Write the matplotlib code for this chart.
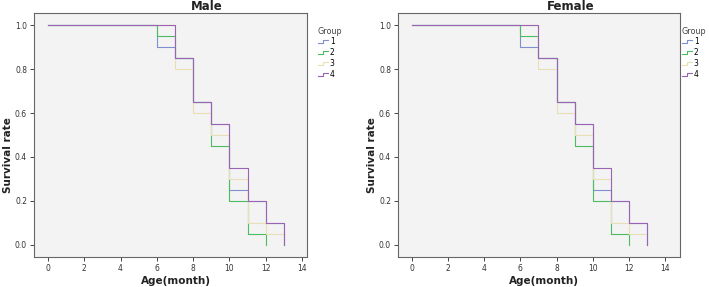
import matplotlib.pyplot as plt
from matplotlib.lines import Line2D
from matplotlib.legend_handler import HandlerLine2D

## survival curves (both panels look identical)
months = [0, 6, 7, 8, 9, 10, 11, 12, 13]
group1 = [1.0, 0.90, 0.85, 0.65, 0.55, 0.25, 0.20, 0.10, 0.0]
group2 = [1.0, 0.95, 0.85, 0.65, 0.45, 0.20, 0.05, 0.0]
group3 = [1.0, 1.0, 0.80, 0.60, 0.50, 0.30, 0.10, 0.05, 0.0]
group4 = [1.0, 1.0, 0.85, 0.65, 0.55, 0.35, 0.20, 0.10, 0.0]

group_names = ['1', '2', '3', '4']
group_colors = ['#7f8fd0', '#4dbb5f', '#e8e0b4', '#9a63b3']
panel_titles = ['Male', 'Female']

x_ticks = [0, 2, 4, 6, 8, 10, 12, 14]
y_ticks = [0.0, 0.2, 0.4, 0.6, 0.8, 1.0]


# little step shaped legend glyph like SPSS draws
class StepHandler(HandlerLine2D):
    def create_artists(self, legend, orig_handle, xdescent, ydescent, width, height, fontsize, trans):
        x0 = -xdescent
        ym = height / 2 - ydescent
        xs = [x0, x0 + width * 0.55, x0 + width * 0.55, x0 + width]
        ys = [ym - height * 0.25, ym - height * 0.25, ym + height * 0.25, ym + height * 0.25]
        ln = Line2D(xs, ys, color=orig_handle.get_color(), lw=orig_handle.get_linewidth())
        ln.set_transform(trans)
        return [ln]


fig = plt.figure(figsize=(7.09, 2.87), dpi=100)
W, H = 709, 287

# axes boxes in pixels: left, right, top, bottom
boxes = [(34, 307, 13, 257), (398, 680, 13, 257)]
xlims = [(-0.77, 14.28), (-0.77, 14.83)]
title_x = [207, 571]
legend_x = [316, 680]

all_groups = [group1, group2, group3, group4]

for i in range(2):
    l, r, t, b = boxes[i]
    ax = fig.add_axes([l / W, 1 - b / H, (r - l) / W, (b - t) / H])
    ax.set_facecolor('#f3f3f3')

    handles = []
    for g in range(4):
        vals = all_groups[g]
        h, = ax.step(months[:len(vals)], vals, where='post',
                     color=group_colors[g], lw=0.8, label=group_names[g])
        handles.append(h)

    ax.set_xlim(*xlims[i])
    ax.set_ylim(-0.055, 1.055)
    ax.set_xticks(x_ticks)
    ax.set_yticks(y_ticks)
    ax.set_yticklabels(['%.1f' % v for v in y_ticks])
    ax.tick_params(direction='out', length=3, width=0.7, color='#444444',
                   labelsize=5.5, labelcolor='#333333', pad=2)
    for sp in ax.spines.values():
        sp.set_color('#666666')
        sp.set_linewidth(0.8)

    fig.text(title_x[i] / W, 1 - 7 / H, panel_titles[i], ha='center', va='center',
             fontsize=8.5, fontweight='bold', color='#222222')
    fig.text((l + r) / 2 / W + 5 / W, 1 - 281 / H, 'Age(month)', ha='center', va='center',
             fontsize=7.5, fontweight='bold', color='#222222')
    fig.text((l - 26) / W, 1 - 155 / H, 'Survival rate', ha='center', va='center',
             rotation=90, fontsize=7.5, fontweight='bold', color='#222222')

    leg = ax.legend(handles=handles, title='Group', loc='upper left',
                    bbox_to_anchor=((legend_x[i] - l) / (r - l), 1 - 12 / (b - t)),
                    frameon=False, fontsize=5.5, title_fontsize=5.8,
                    handlelength=1.4, handletextpad=0.2, labelspacing=0.25,
                    borderaxespad=0, borderpad=0.2, handler_map={Line2D: StepHandler()})
    leg._legend_box.align = 'left'
    leg.get_title().set_color('#444444')

plt.savefig('out.png', dpi=100)
